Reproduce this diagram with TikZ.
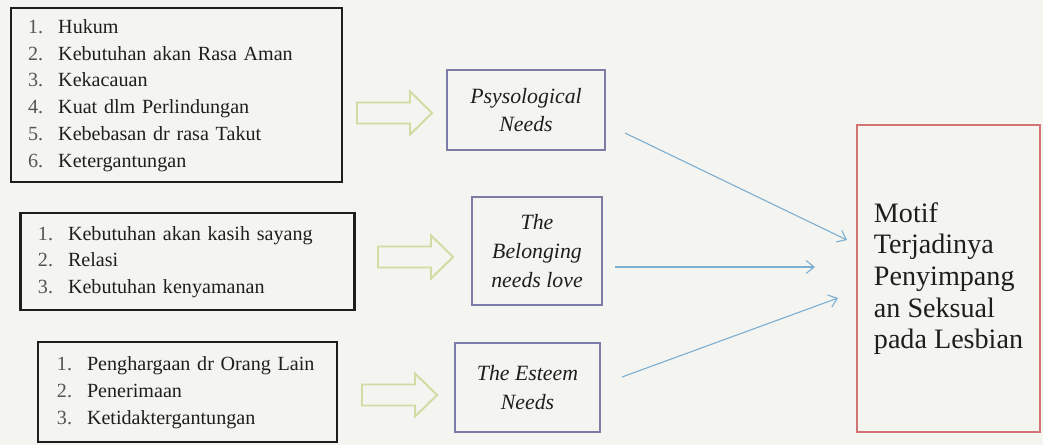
\documentclass[tikz,border=0pt]{standalone}
\usepackage{fontspec}
\setmainfont{Liberation Serif}
\usetikzlibrary{arrows.meta}
\usepackage{xcolor}
\definecolor{paper}{HTML}{F4F5F0}
\definecolor{ink}{HTML}{1E1E1E}
\definecolor{numgray}{HTML}{555555}
\definecolor{lilac}{HTML}{7C7CA6}
\definecolor{rose}{HTML}{D27474}
\definecolor{olive}{HTML}{D3DAA3}
\definecolor{sky}{HTML}{7DAFD2}
\newcommand{\listnr}[1]{{\color{numgray}#1.}}

\begin{document}
\begin{tikzpicture}[x=0.025cm,y=-0.025cm,
		listbox/.style={draw=ink,line width=2pt,inner xsep=0.43cm,inner ysep=0pt,align=left,text=ink,font=\fontsize{14.3}{19}\selectfont},
		needbox/.style={draw=lilac,line width=1.2pt,align=center,text=ink,font=\fontsize{15.5}{20.5}\selectfont\itshape},
		motifbox/.style={draw=rose,line width=1.2pt,align=left,text=ink,font=\fontsize{20}{22.5}\selectfont},
		fatarrow/.style={draw=olive,line width=1.4pt,line join=miter},
		linkarrow/.style={draw=sky,line width=0.8pt,-{Straight Barb[length=2mm,width=3.2mm]}},]
		\path[use as bounding box,fill=paper] (0,0) rectangle (1043,445);
		%lists
		\node[listbox,text width=7.415cm,minimum height=4.35cm] (listA) at (176.5,95) {%
			\begin{tabular}{@{}l@{\hspace{0.375cm}}l@{}}
				\listnr{1} & Hukum\\
				\listnr{2} & Kebutuhan akan Rasa Aman\\
				\listnr{3} & Kekacauan\\
				\listnr{4} & Kuat dlm Perlindungan\\
				\listnr{5} & Kebebasan dr rasa Takut\\
				\listnr{6} & Ketergantungan
			\end{tabular}};
		\node[listbox,text width=7.475cm,minimum height=2.425cm] (listB) at (187.5,261.5) {%
			\begin{tabular}{@{}l@{\hspace{0.375cm}}l@{}}
				\listnr{1} & Kebutuhan akan kasih sayang\\
				\listnr{2} & Relasi\\
				\listnr{3} & Kebutuhan kenyamanan
			\end{tabular}};
		\node[listbox,text width=6.525cm,minimum height=2.5cm,inner xsep=0.475cm] (listC) at (187.5,392) {%
			\begin{tabular}{@{}l@{\hspace{0.375cm}}l@{}}
				\listnr{1} & Penghargaan dr Orang Lain\\
				\listnr{2} & Penerimaan\\
				\listnr{3} & Ketidaktergantungan
			\end{tabular}};
		%needs
		\node[needbox,minimum width=3.95cm,minimum height=2cm] (psy) at (526,110) {Psysological\\Needs};
		\node[needbox,minimum width=3.25cm,minimum height=2.7cm] (belong) at (537,251) {The\\Belonging\\needs love};
		\node[needbox,minimum width=3.625cm,minimum height=2.225cm] (esteem) at (527.5,387.5) {The Esteem\\Needs};
		%motif
		\node[motifbox,minimum width=4.575cm,minimum height=7.675cm] (motif) at (948.5,278.5) {Motif\\Terjadinya\\Penyimpang\\an Seksual\\pada Lesbian};
		%hollow arrows
		\draw[fatarrow,shift={(357,113)}] (0,-10.5) -- (53,-10.5) -- (53,-21.5) -- (75,0) -- (53,21.5) -- (53,10.5) -- (0,10.5) -- cycle;
		\draw[fatarrow,shift={(378,257)}] (0,-10.5) -- (53,-10.5) -- (53,-21.5) -- (75,0) -- (53,21.5) -- (53,10.5) -- (0,10.5) -- cycle;
		\draw[fatarrow,shift={(362,395)}] (0,-10.5) -- (53,-10.5) -- (53,-21.5) -- (75,0) -- (53,21.5) -- (53,10.5) -- (0,10.5) -- cycle;
		%links to motif
		\coordinate (psyout) at (625,133);
		\coordinate (psyin) at (847,240);
		\coordinate (belongout) at (615,267);
		\coordinate (belongin) at (815,267);
		\coordinate (esteemout) at (622,377);
		\coordinate (esteemin) at (838,298);
		\draw[linkarrow] (psyout) -- (psyin);
		\draw[linkarrow] (belongout) -- (belongin);
		\draw[linkarrow] (esteemout) -- (esteemin);
	\end{tikzpicture}
\end{document}
